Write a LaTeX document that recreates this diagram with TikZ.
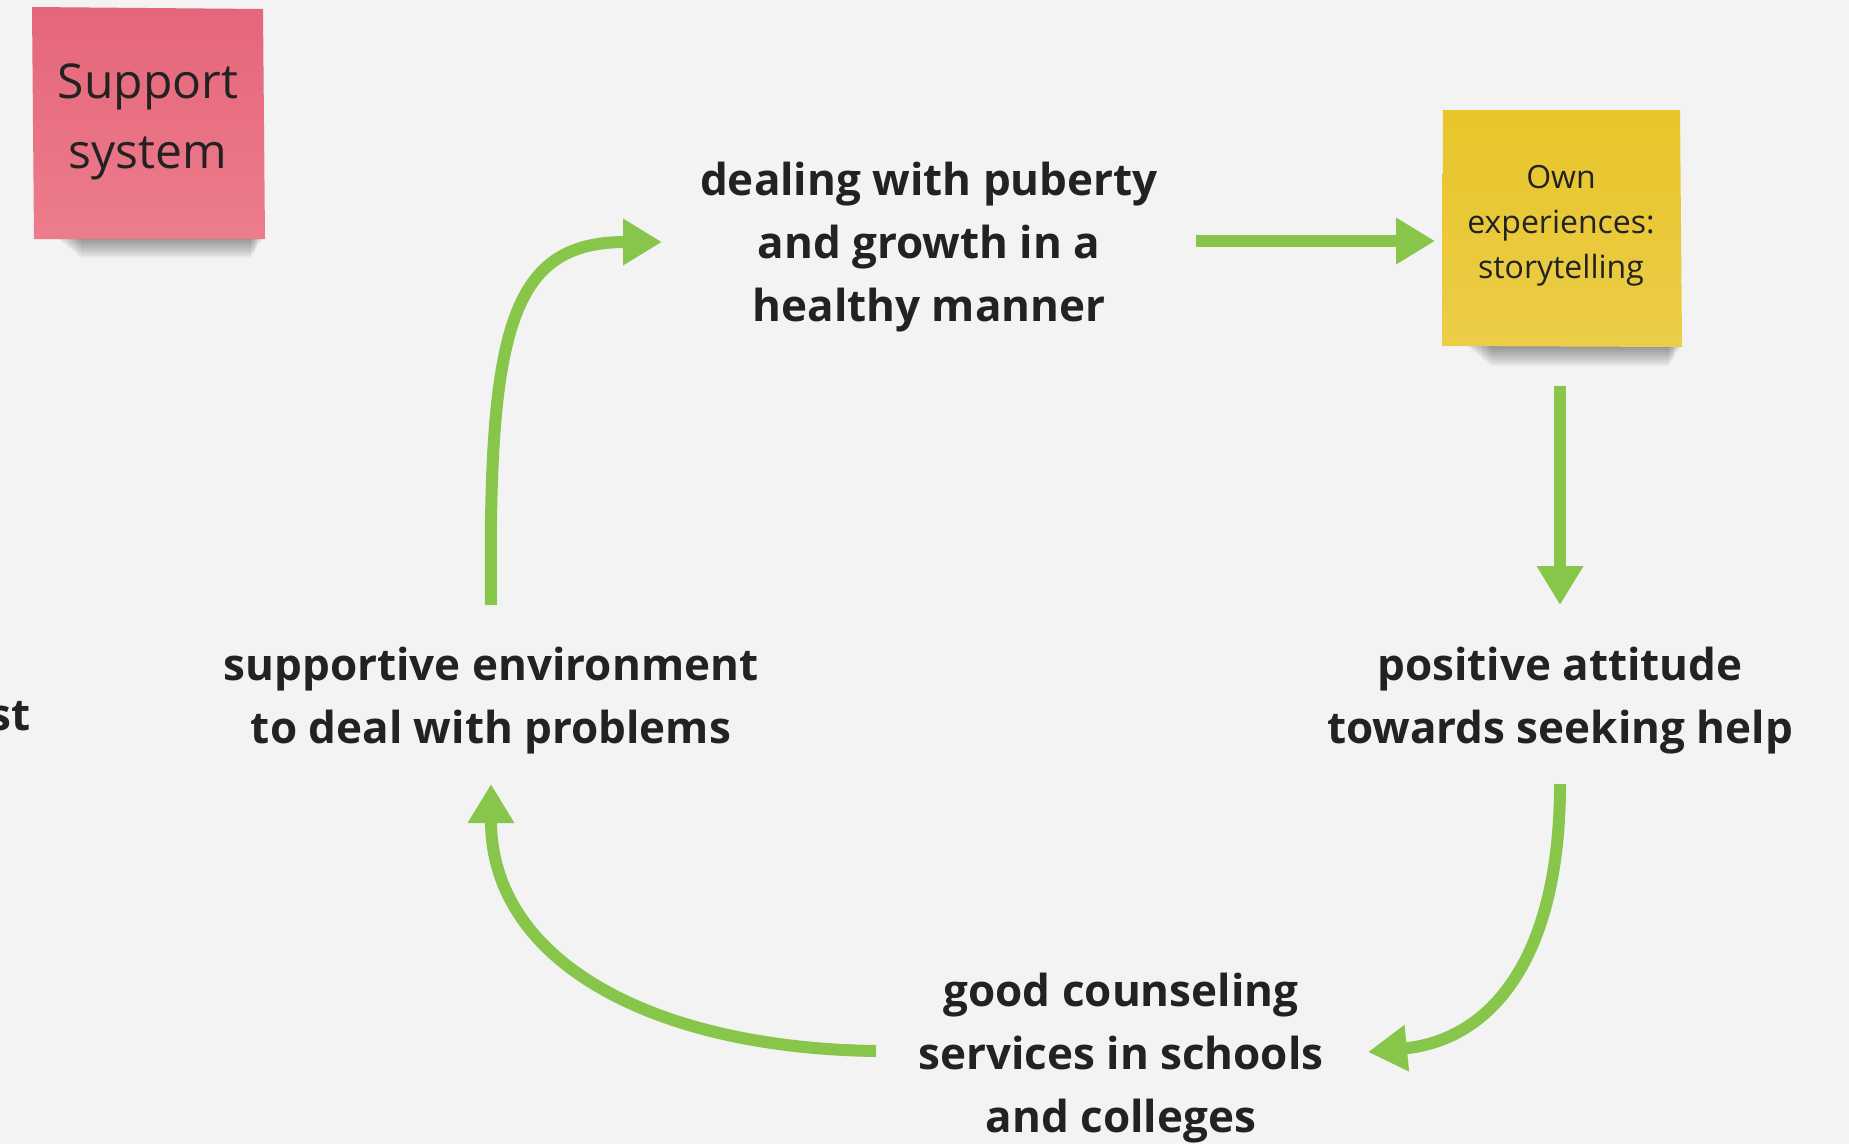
\documentclass[tikz,border=0pt]{standalone}
\usepackage{fontspec}
\setmainfont{Open Sans}
\usetikzlibrary{arrows.meta}
\definecolor{bg}{HTML}{F3F3F3}
\definecolor{grn}{RGB}{135,198,74}
\definecolor{ink}{HTML}{222222}
\definecolor{pinkA}{HTML}{E5667A}
\definecolor{pinkB}{HTML}{EC7C8C}
\definecolor{yelA}{HTML}{E8C52A}
\definecolor{yelB}{HTML}{EBCD48}
\tikzset{
  lbl/.style={align=center, text=ink, font=\bfseries\fontsize{44}{63}\selectfont, inner sep=0pt},
  flow/.style={draw=grn, line width=12pt, -{Triangle[length=39pt,width=44pt]}},
  stickytext/.style={align=center, text=ink, inner sep=0pt}
}
\begin{document}
\begin{tikzpicture}[x=1pt,y=-1pt]
\fill[bg] (0,0) rectangle (1849,1144);
\useasboundingbox (0,0) rectangle (1849,1144);
% shadows
\foreach \i in {0,...,9}{
  \fill[black, opacity=0.045] (58+\i*2.5,238) rectangle (262-\i*1.2,240+\i*2);
  \fill[black, opacity=0.045] (1468+\i*2.5,346) rectangle (1680-\i*1.2,348+\i*2);
}
% pink sticky
\shade[top color=pinkA, bottom color=pinkB] (32,7) -- (263,9) -- (265,239) -- (34,239) -- cycle;
\node[stickytext, font=\fontsize{48}{70}\selectfont] (support) at (148,122) {Support\\system};
% yellow sticky
\shade[top color=yelA, bottom color=yelB] (1443,110) -- (1680,110) -- (1682,347) -- (1442,346) -- cycle;
\node[stickytext, font=\fontsize{32}{45}\selectfont] (own) at (1561,226) {Own\\experiences:\\storytelling};
% labels
\node[lbl] (deal) at (929,247) {dealing with puberty\\and growth in a\\healthy manner};
\node[lbl] (pos) at (1560,701) {positive attitude\\towards seeking help};
\node[lbl] (good) at (1121,1058) {good counseling\\services in schools\\and colleges};
\node[lbl] (supp) at (491,701) {supportive environment\\to deal with problems};
\node[lbl, anchor=east] (st) at (31,716) {st};
% connector anchor coordinates
\coordinate (a1s) at (1196,241);
\coordinate (a1e) at (1435,241);
\coordinate (a2s) at (1560,386);
\coordinate (a2e) at (1560,605);
\coordinate (a3s) at (1560,784);
\coordinate (a3e) at (1368,1052);
\coordinate (a4s) at (876,1051);
\coordinate (a4e) at (491,784);
\coordinate (a5s) at (491,605);
\coordinate (a5e) at (662,242);
\draw[flow] (a1s) -- (a1e);
\draw[flow] (a2s) -- (a2e);
\draw[flow] (a3s) .. controls (1560,960) and (1490,1040) .. (a3e);
\draw[flow] (a4s) .. controls (650,1048) and (491,960) .. (a4e);
\draw[flow] (a5s) .. controls (488,330) and (510,242) .. (a5e);
\end{tikzpicture}
\end{document}
